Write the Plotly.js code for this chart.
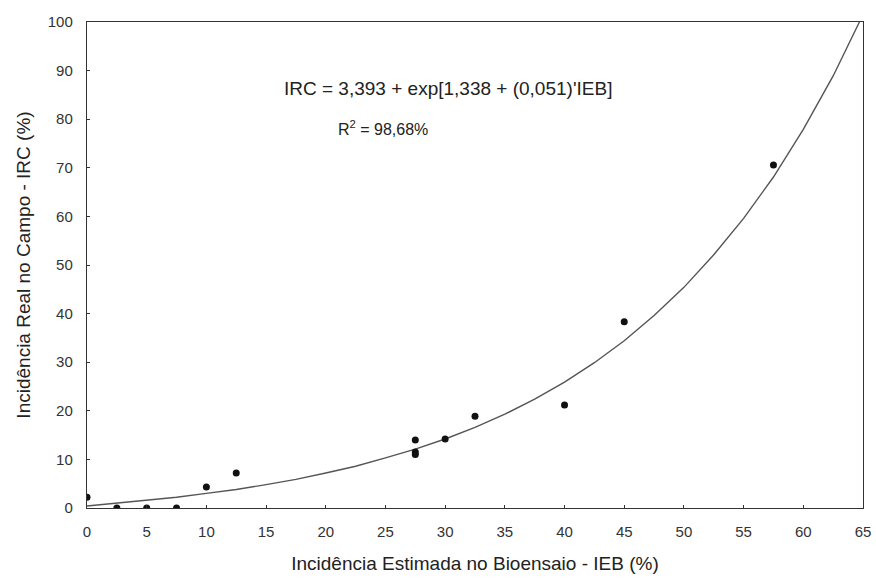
<!DOCTYPE html>
<html>
<head>
<meta charset="utf-8">
<script src="https://cdn.plot.ly/plotly-3.0.1.min.js"></script>
<style>html,body{margin:0;padding:0;background:#fff;}#chart{width:876px;height:580px;}</style>
</head>
<body>
<div id="chart"></div>
<script>
// Observed points (IEB %, IRC %)
const obsIEB = [0, 2.5, 5, 7.5, 10, 12.5, 27.5, 27.5, 27.5, 30, 32.5, 40, 45, 57.5];
const obsIRC = [2.2, 0, 0, 0, 4.3, 7.2, 14, 11.5, 11, 14.2, 18.9, 21.2, 38.3, 70.6];

// Fitted curve
const fitIEB = [0, 2.5, 5, 7.5, 10, 12.5, 15, 17.5, 20, 22.5, 25, 27.5, 30, 32.5, 35, 37.5, 40, 42.5, 45, 47.5, 50, 52.5, 55, 57.5, 60, 62.5, 64.7];
const fitIRC = [0.4, 1.0, 1.5, 2.2, 3.0, 3.8, 4.8, 5.9, 7.2, 8.6, 10.3, 12.1, 14.2, 16.6, 19.3, 22.4, 25.9, 29.9, 34.4, 39.6, 45.4, 52.1, 59.6, 68.1, 77.9, 88.9, 100];

const xTicks = [0, 5, 10, 15, 20, 25, 30, 35, 40, 45, 50, 55, 60, 65];
const xTickText = ["0", "5", "10", "15", "20", "25", "30", "35", "40", "45", "50", "55", "60", "65"];
const yTicks = [0, 10, 20, 30, 40, 50, 60, 70, 80, 90, 100];

const eqText = "IRC = 3,393 + exp[1,338 + (0,051)'IEB]";
const r2Text = "R<sup>2</sup> = 98,68%";
const xTitle = "Incidência Estimada no Bioensaio - IEB (%)";
const yTitle = "Incidência Real no Campo - IRC (%)";

const F = '"Liberation Sans", Arial, sans-serif';

const traces = [
  {x: fitIEB, y: fitIRC, mode: 'lines', type: 'scatter',
   line: {color: '#555', width: 1.4}, hoverinfo: 'skip', showlegend: false},
  {x: obsIEB, y: obsIRC, mode: 'markers', type: 'scatter',
   marker: {color: '#111', size: 7, symbol: 'circle'}, showlegend: false}
];

const layout = {
  width: 876, height: 580,
  margin: {l: 87, r: 13, t: 22, b: 72},
  paper_bgcolor: '#fff', plot_bgcolor: '#fff',
  font: {family: F, color: '#333', size: 15},
  showlegend: false,
  xaxis: {
    range: [0, 65], tickvals: xTicks, ticktext: xTickText,
    showgrid: false, zeroline: false, automargin: false,
    showline: true, mirror: true, linecolor: '#333', linewidth: 1.2,
    ticks: 'inside', ticklen: 3, tickcolor: '#333', ticklabelstandoff: 10,
    tickfont: {family: F, size: 15, color: '#333'},
    title: {text: xTitle, font: {family: F, size: 19, color: '#222'}, standoff: 17}
  },
  yaxis: {
    range: [0, 100], tickvals: yTicks,
    showgrid: false, zeroline: false, automargin: false,
    showline: true, mirror: true, linecolor: '#333', linewidth: 1.2,
    ticks: 'inside', ticklen: 3, tickcolor: '#333', ticklabelstandoff: 10,
    tickfont: {family: F, size: 15, color: '#333'},
    title: {text: yTitle, font: {family: F, size: 19, color: '#222'}, standoff: 12}
  },
  annotations: [
    {text: eqText, xref: 'paper', yref: 'paper', x: 0.465, y: 0.864,
     xanchor: 'center', yanchor: 'middle', showarrow: false,
     font: {family: F, size: 19, color: '#222'}},
    {text: r2Text, xref: 'paper', yref: 'paper', x: 0.321, y: 0.782,
     xanchor: 'left', yanchor: 'middle', showarrow: false,
     font: {family: F, size: 16, color: '#222'}}
  ]
};

Plotly.newPlot('chart', traces, layout, {displayModeBar: false, staticPlot: true});
</script>
</body>
</html>
